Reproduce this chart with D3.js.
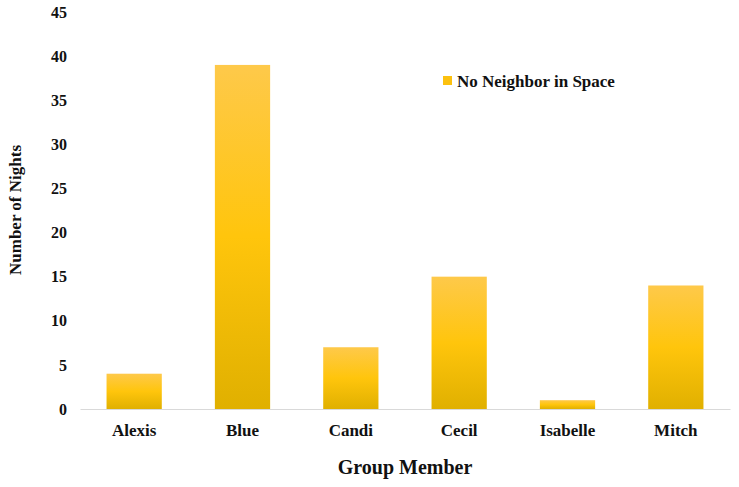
<!DOCTYPE html>
<html>
  <head>
    <meta charset="utf-8">
    <script src="https://d3js.org/d3.v7.min.js"></script>
    <style>
      body { margin: 0; background: #fff; }
    </style>
  </head>
  <body>
    <script>

      // data
      var members = ["Alexis", "Blue", "Candi", "Cecil", "Isabelle", "Mitch"]
      var nights = [4, 39, 7, 15, 1, 14]
      var y_ticks = [0, 5, 10, 15, 20, 25, 30, 35, 40, 45]
      var series_name = "No Neighbor in Space"

      var w = 739
      var h = 487
      var serif = "'Liberation Serif', 'DejaVu Serif', serif"

      var svg = d3.select("body")
        .append("svg")
        .attr("width", w)
        .attr("height", h)

      // gradient for the bars
      var grad = svg.append("defs")
        .append("linearGradient")
        .attr("id", "bar_grad")
        .attr("x1", 0).attr("y1", 0)
        .attr("x2", 0).attr("y2", 1)
      grad.append("stop").attr("offset", "0%").attr("stop-color", "#fec94a")
      grad.append("stop").attr("offset", "50%").attr("stop-color", "#ffc50c")
      grad.append("stop").attr("offset", "100%").attr("stop-color", "#e0b000")

      var x_scale = d3.scaleBand()
        .domain(members)
        .range([80, 730])
        .paddingInner(0.49)
        .paddingOuter(0.245)

      var y_scale = d3.scaleLinear()
        .domain([0, 45])
        .range([409, 12])

      // bars
      svg.selectAll("rect.bar")
        .data(nights)
        .enter()
        .append("rect")
        .attr("class", "bar")
        .attr("x", function(d, i) { return x_scale(members[i]) })
        .attr("y", function(d) { return y_scale(d) })
        .attr("width", x_scale.bandwidth())
        .attr("height", function(d) { return y_scale(0) - y_scale(d) })
        .attr("fill", "url(#bar_grad)")

      // x axis
      var x_axis = svg.append("g")
        .attr("transform", "translate(0," + y_scale(0) + ")")
        .call(d3.axisBottom(x_scale).tickSize(0).tickPadding(15))
      x_axis.attr("font-family", serif).attr("font-weight", "bold").attr("font-size", 17)
      x_axis.select(".domain").attr("stroke", "#d9d9d9")
      x_axis.selectAll("text").attr("fill", "#111")

      // y axis, labels only
      var y_axis = svg.append("g")
        .attr("transform", "translate(67,0)")
        .call(d3.axisLeft(y_scale).tickValues(y_ticks).tickSize(0).tickPadding(0))
      y_axis.attr("font-family", serif).attr("font-weight", "bold").attr("font-size", 16)
      y_axis.select(".domain").remove()
      y_axis.selectAll("text").attr("fill", "#111")

      // axis titles
      svg.append("text")
        .attr("x", 405)
        .attr("y", 474)
        .attr("text-anchor", "middle")
        .attr("font-family", serif)
        .attr("font-weight", "bold")
        .attr("font-size", 20)
        .attr("fill", "#111")
        .text("Group Member")

      svg.append("text")
        .attr("transform", "translate(21,210) rotate(-90)")
        .attr("text-anchor", "middle")
        .attr("font-family", serif)
        .attr("font-weight", "bold")
        .attr("font-size", 17)
        .attr("fill", "#111")
        .text("Number of Nights")

      // legend
      svg.append("rect")
        .attr("x", 443)
        .attr("y", 76)
        .attr("width", 9)
        .attr("height", 9)
        .attr("fill", "#fcc10f")

      svg.append("text")
        .attr("x", 457)
        .attr("y", 87)
        .attr("font-family", serif)
        .attr("font-weight", "bold")
        .attr("font-size", 17)
        .attr("fill", "#111")
        .text(series_name)

    </script>
  </body>
</html>
